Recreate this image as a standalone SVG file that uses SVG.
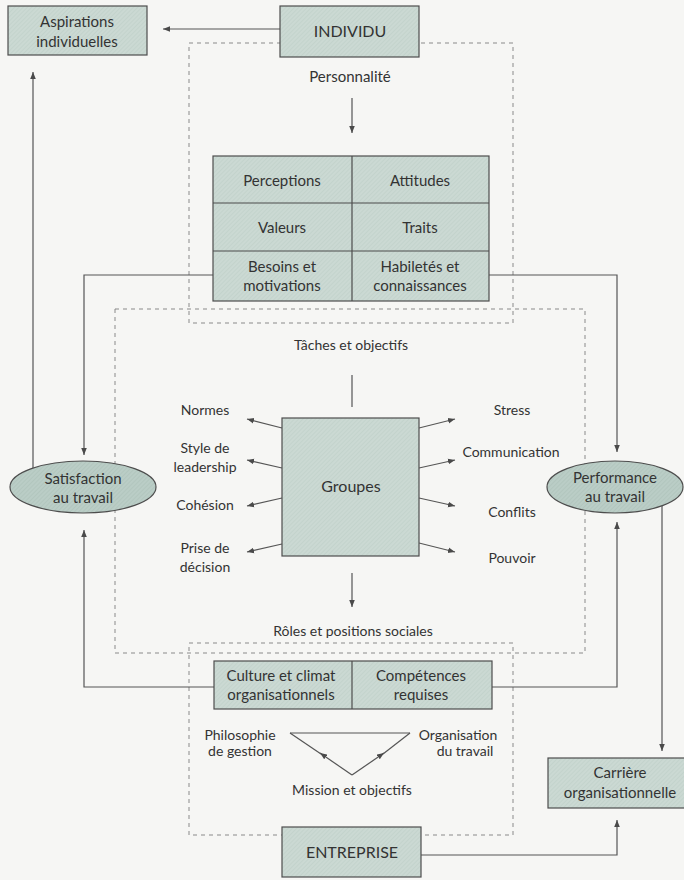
<svg xmlns="http://www.w3.org/2000/svg" width="684" height="880" viewBox="0 0 684 880">
  <defs>
    <pattern id="hatch" width="3" height="3" patternUnits="userSpaceOnUse" patternTransform="rotate(45)">
      <rect width="3" height="3" fill="#cbd9d3"/>
      <line x1="0" y1="0" x2="0" y2="3" stroke="#bccdc6" stroke-width="1"/>
    </pattern>
    <pattern id="hatchDark" width="3" height="3" patternUnits="userSpaceOnUse" patternTransform="rotate(45)">
      <rect width="3" height="3" fill="#bacdc6"/>
      <line x1="0" y1="0" x2="0" y2="3" stroke="#aabfb7" stroke-width="1"/>
    </pattern>
    <marker id="arrow" viewBox="0 0 10 10" refX="10" refY="5" markerWidth="7" markerHeight="7" markerUnits="userSpaceOnUse" orient="auto">
      <path d="M0,1 L10,5 L0,9 Z" fill="#4a4a4a"/>
    </marker>
  </defs>
  <style>
    text { font-family: "Lato", "Open Sans", "Liberation Sans", sans-serif; fill: #333; text-anchor: middle; font-size: 15px; }
    .caps { font-size: 16px; }
    .lbl { font-size: 14px; }
    .box { fill: url(#hatch); stroke: #4d4d4d; stroke-width: 1.2; }
    .oval { fill: url(#hatchDark); stroke: #4d4d4d; stroke-width: 1.2; }
    .div { stroke: #4d4d4d; stroke-width: 1.2; fill: none; }
    .zone { fill: none; stroke: #8a8a8a; stroke-width: 1; stroke-dasharray: 4 4; }
    .link { fill: none; stroke: #555; stroke-width: 1.2; }
    .arr { marker-end: url(#arrow); }
  </style>

  <rect width="684" height="880" fill="#f6f6f4"/>

  <!-- dashed zones -->
  <g id="zones">
    <rect class="zone" x="189" y="43" width="324" height="280"/>
    <rect class="zone" x="115" y="309" width="470" height="344"/>
    <rect class="zone" x="189" y="643" width="324" height="192"/>
  </g>

  <!-- connectors -->
  <g id="connectors">
    <path class="link arr" d="M280,29 H163"/>
    <path class="link arr" d="M352,98 V133"/>
    <path class="link arr" d="M213,275 H84 V455"/>
    <path class="link arr" d="M489,275 H617 V452"/>
    <path class="link arr" d="M33,468 V72"/>
    <path class="link" d="M352,375 V407"/>
    <path class="link arr" d="M282,428 L247,419"/>
    <path class="link arr" d="M282,468 L247,460"/>
    <path class="link arr" d="M282,498 L247,506"/>
    <path class="link arr" d="M282,544 L247,552"/>
    <path class="link arr" d="M419,428 L455,419"/>
    <path class="link arr" d="M419,468 L455,460"/>
    <path class="link arr" d="M419,498 L455,506"/>
    <path class="link arr" d="M419,543 L455,552"/>
    <path class="link arr" d="M352,573 V607"/>
    <path class="link arr" d="M214,687 H84 V530"/>
    <path class="link arr" d="M492,687 H617 V522"/>
    <path class="link arr" d="M662,506 V751"/>
    <path class="link arr" d="M421,855 H617 V820"/>
    <!-- triangle of the organisation -->
    <path class="link" d="M290,733 H410"/>
    <path class="link arr" d="M352,775 L320,753"/>
    <path class="link" d="M321,754 L290,733"/>
    <path class="link arr" d="M352,775 L384,753"/>
    <path class="link" d="M383,754 L410,733"/>
  </g>

  <g id="aspirations">
    <rect class="box" x="8" y="6" width="139" height="49"/>
    <text x="77" y="27">Aspirations</text>
    <text x="77" y="47">individuelles</text>
  </g>

  <g id="individu">
    <rect class="box" x="280" y="6" width="139" height="51"/>
    <text class="caps" x="350" y="37">INDIVIDU</text>
  </g>

  <g id="personnalite">
    <text x="350" y="82">Personnalité</text>
  </g>

  <g id="traits-individuels">
    <rect class="box" x="213" y="156" width="276" height="145"/>
    <path class="div" d="M352,156 V301 M213,203 H489 M213,251 H489"/>
    <text x="282" y="186">Perceptions</text>
    <text x="420" y="186">Attitudes</text>
    <text x="282" y="233">Valeurs</text>
    <text x="420" y="233">Traits</text>
    <text x="282" y="272">Besoins et</text>
    <text x="282" y="291">motivations</text>
    <text x="420" y="272">Habiletés et</text>
    <text x="420" y="291">connaissances</text>
  </g>

  <g id="satisfaction">
    <ellipse class="oval" cx="83" cy="487" rx="73" ry="26"/>
    <text x="83" y="484">Satisfaction</text>
    <text x="83" y="503">au travail</text>
  </g>

  <g id="performance">
    <ellipse class="oval" cx="615" cy="487" rx="68" ry="26"/>
    <text x="615" y="483">Performance</text>
    <text x="615" y="502">au travail</text>
  </g>

  <g id="groupes">
    <text class="lbl" x="351" y="350">Tâches et objectifs</text>
    <rect class="box" x="282" y="418" width="137" height="138"/>
    <text class="caps" x="351" y="492">Groupes</text>
    <text class="lbl" x="205" y="415">Normes</text>
    <text class="lbl" x="205" y="453">Style de</text>
    <text class="lbl" x="205" y="472">leadership</text>
    <text class="lbl" x="205" y="510">Cohésion</text>
    <text class="lbl" x="205" y="553">Prise de</text>
    <text class="lbl" x="205" y="572">décision</text>
    <text class="lbl" x="512" y="415">Stress</text>
    <text class="lbl" x="511" y="457">Communication</text>
    <text class="lbl" x="512" y="517">Conflits</text>
    <text class="lbl" x="512" y="563">Pouvoir</text>
    <text class="lbl" x="353" y="636">Rôles et positions sociales</text>
  </g>

  <g id="organisation">
    <rect class="box" x="214" y="661" width="278" height="48"/>
    <path class="div" d="M352,661 V709"/>
    <text x="281" y="681">Culture et climat</text>
    <text x="281" y="700">organisationnels</text>
    <text x="421" y="681">Compétences</text>
    <text x="421" y="700">requises</text>
    <text class="lbl" x="240" y="740">Philosophie</text>
    <text class="lbl" x="240" y="756">de gestion</text>
    <text class="lbl" x="458" y="740">Organisation</text>
    <text class="lbl" x="465" y="756">du travail</text>
    <text class="lbl" x="352" y="795">Mission et objectifs</text>
  </g>

  <g id="entreprise">
    <rect class="box" x="282" y="827" width="139" height="50"/>
    <text class="caps" x="352" y="858">ENTREPRISE</text>
  </g>

  <g id="carriere">
    <rect class="box" x="548" y="758" width="140" height="50"/>
    <text x="620" y="778">Carrière</text>
    <text x="620" y="798">organisationnelle</text>
  </g>
</svg>
